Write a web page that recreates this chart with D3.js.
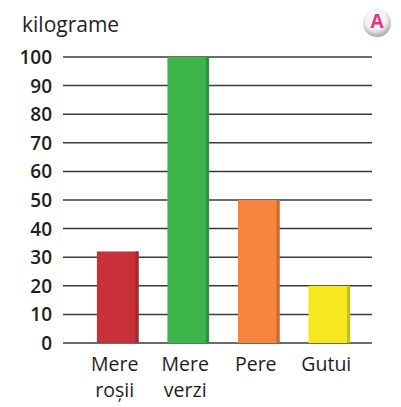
<!DOCTYPE html>
<html>
<head>
<meta charset="utf-8">
<script src="https://cdn.jsdelivr.net/npm/d3@7"></script>
<style>
  body { margin: 0; background: #fff; }
  svg { display: block; font-family: "Open Sans", Lato, sans-serif; }
</style>
</head>
<body>
<svg id="chart" width="401" height="407"></svg>
<script>
// data
const categories = ["Mere roșii", "Mere verzi", "Pere", "Gutui"];
const labelLines = [["Mere", "roșii"], ["Mere", "verzi"], ["Pere"], ["Gutui"]];
const values = [32, 100, 50, 20];
const barColors = ["#c8313a", "#3cb54a", "#f7843d", "#f6e71f"];
const yTicks = [0, 10, 20, 30, 40, 50, 60, 70, 80, 90, 100];
const unitLabel = "kilograme";

const svg = d3.select("#chart");

const y = d3.scaleLinear()
    .domain([0, 100])
    .range([343, 57]);

const x = d3.scaleBand()
    .domain(categories)
    .range([68, 379])
    .padding(0.41);

// gridlines
svg.append("g")
  .selectAll("line")
  .data(yTicks)
  .enter().append("line")
    .attr("x1", 63)
    .attr("x2", 372)
    .attr("y1", d => y(d))
    .attr("y2", d => y(d))
    .attr("stroke", "#3a3a3a")
    .attr("stroke-width", 1.5);

// tick labels
svg.append("g")
  .selectAll("text")
  .data(yTicks)
  .enter().append("text")
    .attr("x", 52)
    .attr("y", d => y(d) + 7)
    .attr("text-anchor", "end")
    .attr("font-size", "19px")
    .attr("font-weight", "600")
    .attr("fill", "#1e1e1e")
    .text(d => d);

// bars
const bars = svg.append("g")
  .selectAll("g")
  .data(categories)
  .enter().append("g");

bars.append("rect")
    .attr("x", d => x(d))
    .attr("y", (d, i) => y(values[i]))
    .attr("width", x.bandwidth())
    .attr("height", (d, i) => y(0) - y(values[i]))
    .attr("fill", (d, i) => barColors[i]);

// darker right edge like the printed bars
bars.append("rect")
    .attr("x", d => x(d) + x.bandwidth() - 3)
    .attr("y", (d, i) => y(values[i]))
    .attr("width", 3)
    .attr("height", (d, i) => y(0) - y(values[i]))
    .attr("fill", (d, i) => d3.color(barColors[i]).darker(0.6));

// category labels, one text per line
const catGroups = svg.append("g")
  .selectAll("g")
  .data(categories)
  .enter().append("g");

catGroups.selectAll("text")
  .data((d, i) => labelLines[i].map(t => ({t, c: d})))
  .enter().append("text")
    .attr("text-anchor", "middle")
    .attr("font-size", "19.5px")
    .attr("fill", "#1e1e1e")
    .attr("x", d => x(d.c) + x.bandwidth() / 2 - 3)
    .attr("y", (d, j) => 371 + j * 26)
    .text(d => d.t);

// unit label
svg.append("text")
    .attr("x", 22)
    .attr("y", 32)
    .attr("font-size", "21px")
    .attr("fill", "#1e1e1e")
    .text(unitLabel);

// "A" badge top right
const grad = svg.append("defs").append("radialGradient")
    .attr("id", "badge")
    .attr("cx", "45%").attr("cy", "35%").attr("r", "65%");
grad.append("stop").attr("offset", "0%").attr("stop-color", "#ffffff");
grad.append("stop").attr("offset", "60%").attr("stop-color", "#f3eef2");
grad.append("stop").attr("offset", "100%").attr("stop-color", "#a9a4a8");

svg.append("circle")
    .attr("cx", 377)
    .attr("cy", 23)
    .attr("r", 14)
    .attr("fill", "url(#badge)");

svg.append("text")
    .attr("x", 377)
    .attr("y", 28)
    .attr("text-anchor", "middle")
    .attr("font-size", "19px")
    .attr("font-weight", "bold")
    .attr("fill", "#e0357f")
    .text("A");
</script>
</body>
</html>
